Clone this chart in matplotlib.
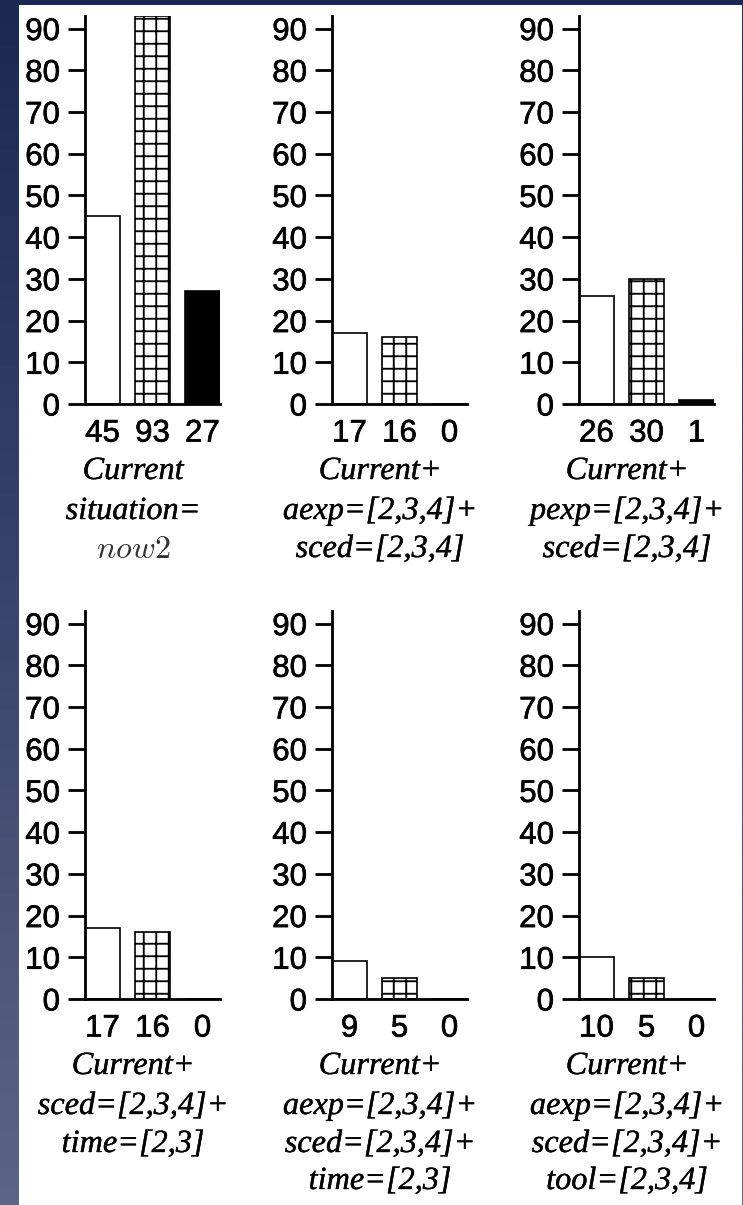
import numpy as np
import matplotlib.pyplot as plt
import matplotlib.patheffects as pe
from matplotlib.patches import Rectangle

plt.rcParams['mathtext.fontset'] = 'cm'
plt.rcParams['hatch.linewidth'] = 1.8

# bar heights per panel: plain / gridded / solid
counts = [
    [45, 93, 27],
    [17, 16, 0],
    [26, 30, 1],
    [17, 16, 0],
    [9, 5, 0],
    [10, 5, 0],
]
captions = [
    ["Current", "situation=", "$now2$"],
    ["Current+", "aexp=[2,3,4]+", "sced=[2,3,4]"],
    ["Current+", "pexp=[2,3,4]+", "sced=[2,3,4]"],
    ["Current+", "sced=[2,3,4]+", "time=[2,3]"],
    ["Current+", "aexp=[2,3,4]+", "sced=[2,3,4]+", "time=[2,3]"],
    ["Current+", "aexp=[2,3,4]+", "sced=[2,3,4]+", "tool=[2,3,4]"],
]
yticks = [0, 10, 20, 30, 40, 50, 60, 70, 80, 90]

W, H, DPI = 743, 1206, 75
fig = plt.figure(figsize=(W / DPI, H / DPI), dpi=DPI)

# slide backdrop and the white page on top of it
bg = fig.add_axes([0, 0, 1, 1])
grad = np.linspace(0, 1, 256).reshape(-1, 1)
bg.imshow(grad, extent=(0, W, H, 0), aspect='auto',
          cmap=plt.matplotlib.colors.LinearSegmentedColormap.from_list(
              'slide', ['#1b2850', '#38446b', '#5c6583']))
bg.add_patch(Rectangle((19, 6), 722, H - 6, color='white'))
bg.set_xlim(0, W)
bg.set_ylim(H, 0)
bg.axis('off')

col_left = [85, 332, 579]
row_base = [405, 1000]
ax_w, ax_h = 135, 388
bar_w = 0.7
styles = [
    dict(facecolor='white', edgecolor='black', hatch=None),
    dict(facecolor='white', edgecolor='black', hatch='+'),
    dict(facecolor='black', edgecolor='black', hatch=None),
]
line_offsets = [75, 115, 153, 190]
thick_num = [pe.withStroke(linewidth=0.6, foreground='black')]
thick_cap = [pe.withStroke(linewidth=0.35, foreground='black')]

for i, (vals, cap) in enumerate(zip(counts, captions)):
    x0 = col_left[i % 3]
    base = row_base[i // 3]
    ax = fig.add_axes([x0 / W, 1 - base / H, ax_w / W, ax_h / H])
    pos = np.arange(3)
    for p, v, st in zip(pos, vals, styles):
        ax.bar(p, v, width=bar_w, linewidth=1.6, **st)
    ax.set_xlim(-bar_w / 2, 2 + bar_w / 2)
    ax.set_ylim(0, 93)
    ax.set_yticks(yticks)
    ax.set_xticks(pos)
    ax.set_xticklabels([str(v) for v in vals])
    for s in ['top', 'right']:
        ax.spines[s].set_visible(False)
    for s in ['left', 'bottom']:
        ax.spines[s].set_linewidth(2.7)
    ax.tick_params(axis='y', direction='out', length=16, width=2.7, pad=8,
                   labelsize=30)
    ax.tick_params(axis='x', length=0, pad=14, labelsize=30)
    for lab in ax.get_xticklabels() + ax.get_yticklabels():
        lab.set_fontfamily('Liberation Sans')
        lab.set_path_effects(thick_num)
    ax.patch.set_alpha(0)

    for k, line in enumerate(cap):
        is_math = line.startswith('$')
        ax.annotate(line, xy=(0, 0), xycoords='axes fraction',
                    xytext=(48, -line_offsets[k]), textcoords='offset pixels',
                    ha='center', va='baseline', fontsize=31,
                    family='Liberation Serif', style='italic',
                    color='#333333' if is_math else 'black',
                    path_effects=None if is_math else thick_cap)

fig.savefig('out.png', dpi=DPI)
